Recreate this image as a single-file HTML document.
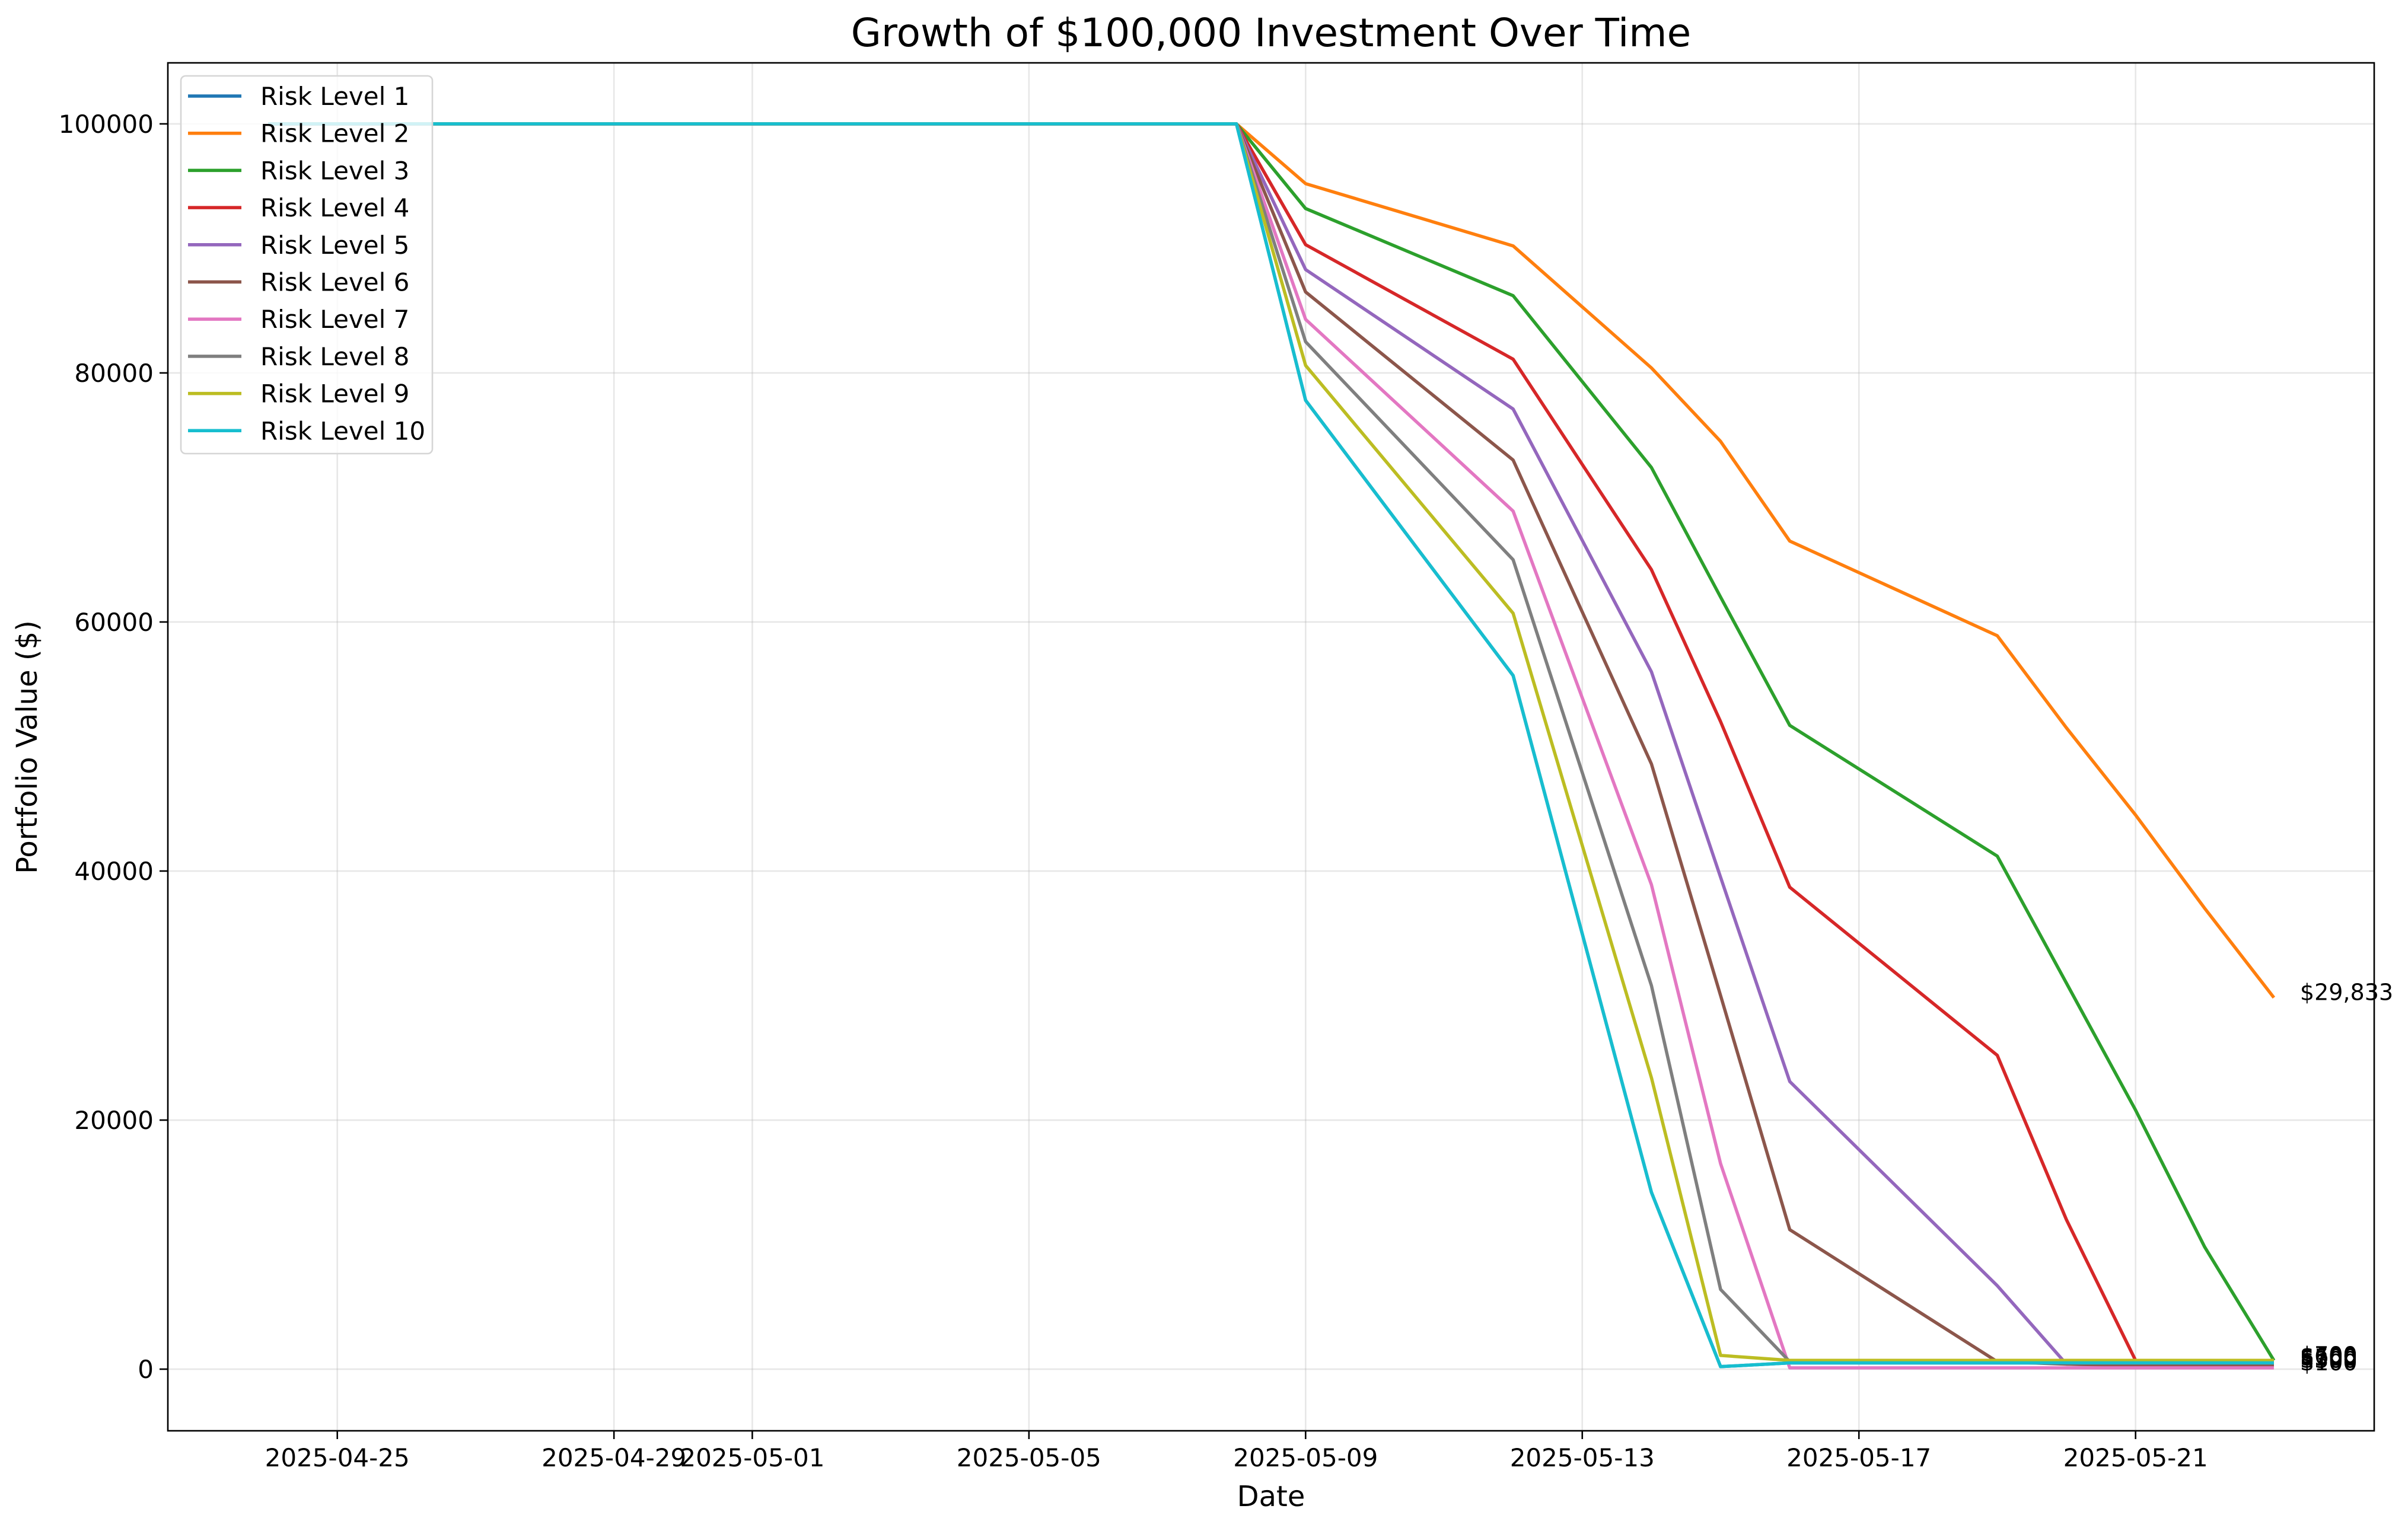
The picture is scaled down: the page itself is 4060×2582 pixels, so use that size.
<!DOCTYPE html>
<html><head><meta charset="utf-8">
<style>
html,body{margin:0;padding:0;background:#fff;}
svg{display:block;font-family:"DejaVu Sans","Liberation Sans",sans-serif;}
</style></head>
<body>
<svg id="chart" width="4060" height="2582" viewBox="0 0 4060 2582" xmlns="http://www.w3.org/2000/svg">
<rect x="0" y="0" width="4060" height="2582" fill="#fff"/>
<g id="grid"></g>
<g id="lines"></g>
<g id="labels"></g>
<rect x="283" y="106" width="3720" height="2307" fill="none" stroke="#000" stroke-width="2.6"/>
<g id="ticks"></g>
<text x="2143" y="78" font-size="66" text-anchor="middle">Growth of $100,000 Investment Over Time</text>
<text x="2143" y="2540" font-size="48" text-anchor="middle">Date</text>
<text x="62" y="1260" font-size="48" text-anchor="middle" transform="rotate(-90 62 1260)">Portfolio Value ($)</text>
<g id="legend"></g>
</svg>
<script>
const dates = ["2025-04-24","2025-04-25","2025-04-28","2025-04-29","2025-04-30","2025-05-01","2025-05-02","2025-05-05","2025-05-06","2025-05-07","2025-05-08","2025-05-09","2025-05-12","2025-05-14","2025-05-15","2025-05-16","2025-05-19","2025-05-20","2025-05-21","2025-05-22","2025-05-23"];
const F = [100000,100000,100000,100000,100000,100000,100000,100000,100000,100000,100000];
const risk1 = F.concat([77800,55700,14200,200,500,500,500,500,500,500]);
const risk2 = F.concat([95200,90200,80400,74500,66500,58900,51500,44500,37000,29833]);
const risk3 = F.concat([93200,86200,72400,62000,51700,41200,31000,20800,9800,700]);
const risk4 = F.concat([90300,81100,64200,52000,38700,25200,12000,700,600,600]);
const risk5 = F.concat([88300,77100,56000,39500,23100,6700,400,300,300,300]);
const risk6 = F.concat([86500,73000,48600,30000,11200,600,400,300,300,300]);
const risk7 = F.concat([84300,68900,38900,16500,100,100,100,100,100,100]);
const risk8 = F.concat([82500,65000,30800,6400,600,600,600,600,600,600]);
const risk9 = F.concat([80600,60700,23400,1100,700,700,700,700,700,700]);
const risk10 = F.concat([77800,55700,14200,200,500,500,500,500,500,500]);
const seriesNames = ["Risk Level 1","Risk Level 2","Risk Level 3","Risk Level 4","Risk Level 5","Risk Level 6","Risk Level 7","Risk Level 8","Risk Level 9","Risk Level 10"];
const seriesValues = [risk1,risk2,risk3,risk4,risk5,risk6,risk7,risk8,risk9,risk10];
const yTicks = [0,20000,40000,60000,80000,100000];
const xTicks = ["2025-04-25","2025-04-29","2025-05-01","2025-05-05","2025-05-09","2025-05-13","2025-05-17","2025-05-21"];
const colors = ["#1f77b4","#ff7f0e","#2ca02c","#d62728","#9467bd","#8c564b","#e377c2","#7f7f7f","#bcbd22","#17becf"];

const NS="http://www.w3.org/2000/svg";
const L=283,R=4003,T=106,B=2413;
const d0=Date.parse("2025-04-24"), d1=Date.parse("2025-05-23");
const span=d1-d0, padX=span*0.05;
function xs(d){const t=Date.parse(d);return L+(t-(d0-padX))/(span+2*padX)*(R-L);}
const yMin=-4950,yMax=104900;
function ys(v){return B-(v-yMin)/(yMax-yMin)*(B-T);}
function mk(tag,attrs,parent){const e=document.createElementNS(NS,tag);for(const k in attrs)e.setAttribute(k,attrs[k]);parent.appendChild(e);return e;}
const grid=document.getElementById('grid'),ticks=document.getElementById('ticks');
yTicks.forEach(v=>{
  const y=ys(v);
  const g=mk('line',{x1:L,x2:R,y1:y,y2:y,stroke:'#b0b0b0','stroke-opacity':0.3,'stroke-width':2.6},grid);
  
  
  const t=mk('line',{x1:L-14,x2:L,y1:y,y2:y,stroke:'#000','stroke-width':2.6},ticks);
  
  
  const tx=mk('text',{x:L-24,y:y+15,'font-size':42,'text-anchor':'end'},ticks);
  tx.textContent=String(v);
  
  
});
xTicks.forEach(d=>{
  const x=xs(d);
  const g=mk('line',{x1:x,x2:x,y1:T,y2:B,stroke:'#b0b0b0','stroke-opacity':0.3,'stroke-width':2.6},grid);
  
  
  const t=mk('line',{x1:x,x2:x,y1:B,y2:B+14,stroke:'#000','stroke-width':2.6},ticks);
  
  
  const tx=mk('text',{x:x,y:B+60,'font-size':42,'text-anchor':'middle'},ticks);
  tx.textContent=d;
  
  
});
const lines=document.getElementById('lines'),labels=document.getElementById('labels');
seriesValues.forEach((vals,i)=>{
  const pts=vals.map((v,j)=>xs(dates[j]).toFixed(1)+','+ys(v).toFixed(1)).join(' ');
  const p=mk('polyline',{points:pts,fill:'none',stroke:colors[i],'stroke-width':5.5,'stroke-linejoin':'round'},lines);
  
  
  const last=vals[vals.length-1];
  const tx=mk('text',{x:xs(dates[dates.length-1])+44,y:ys(last)+4,'font-size':38},labels);
  tx.textContent='$'+Math.round(last).toLocaleString('en-US');
  
  
});
const lg=document.getElementById('legend');
const box=mk('rect',{x:305,y:128,width:424,height:637,rx:8,fill:'#fff','fill-opacity':0.8,stroke:'#d6d6d6','stroke-width':2.6},lg);


seriesNames.forEach((n,i)=>{
  const y=162+i*62.7;
  const g=mk('g',{},lg);
  
  
  mk('line',{x1:317,x2:407,y1:y,y2:y,stroke:colors[i],'stroke-width':5.5},g);
  const t=mk('text',{x:439,y:y+15,'font-size':42},g);
  t.textContent=n;
});
</script>
</body></html>
